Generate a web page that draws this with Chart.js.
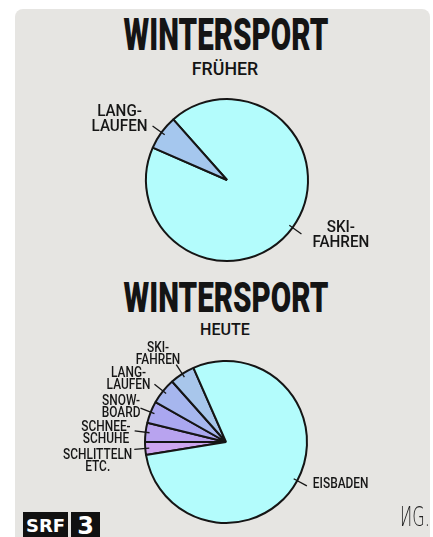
<!DOCTYPE html>
<html>
<head>
<meta charset="utf-8">
<script src="https://cdn.jsdelivr.net/npm/chart.js@4"></script>
<style>
  html, body { margin: 0; padding: 0; background: #fff; }
  body { width: 433px; height: 537px; overflow: hidden; position: relative; font-family: Roboto, "DejaVu Sans", sans-serif; }
  #panel { position: absolute; left: 15px; top: 9px; width: 415px; height: 540px; background: #e6e5e2; border-radius: 8px; }
  .fit { position: absolute; white-space: nowrap; line-height: 1; color: #141414; transform-origin: center; }
  .big { font-weight: 900; }
  .sub { font-weight: 500; }
  canvas { position: absolute; left: 0; }
  .logo { position: absolute; top: 512px; height: 30px; background: #111; color: #fff; font-weight: 700; font-family: "DejaVu Sans", sans-serif; text-align: center; line-height: 28px; }
  #sig { position: absolute; left: 400px; top: 502px; font: 300 26px "DejaVu Sans", sans-serif; color: #222; transform: scaleX(0.62); transform-origin: left; }
</style>
</head>
<body>
<div id="panel"></div>

<div class="fit big" data-w="205" style="left:225.5px; top:13px; font-size:44px;">WINTERSPORT</div>
<div class="fit sub" data-w="66" style="left:225px; top:60px; font-size:18px;">FRÜHER</div>
<canvas id="frueher" width="433" height="180" style="top:90px"></canvas>

<div class="fit big" data-w="205" style="left:225.5px; top:277px; font-size:42px;">WINTERSPORT</div>
<div class="fit sub" data-w="50" style="left:225px; top:321px; font-size:17px;">HEUTE</div>
<canvas id="heute" width="433" height="200" style="top:340px"></canvas>

<div class="logo" style="left:23px; width:45px; font-size:18px;">SRF</div>
<div class="logo" style="left:71px; width:29px; font-size:24px;">3</div>
<div id="sig">ИG.</div>

<script>
// früher
const frueherLabels = [['SKI-', 'FAHREN'], ['LANG-', 'LAUFEN']];
const frueherValues = [93.1, 6.9];
const frueherColors = ['#b3fcfc', '#a5c7ee'];

// heute
const heuteLabels = [['SCHLITTELN', 'ETC.'], ['SCHNEE-', 'SCHUHE'], ['SNOW-', 'BOARD'], ['LANG-', 'LAUFEN'], ['SKI-', 'FAHREN'], ['EISBADEN']];
const heuteValues = [2.6, 3.8, 4.4, 5.2, 5.0, 79.0];
const heuteColors = ['#cda5ef', '#b8a3ef', '#aaa7f0', '#a6b6ee', '#a8c6eb', '#b3fcfc'];

// squeeze the titles to the drawn width
document.querySelectorAll('.fit').forEach(el => {
    const s = Number(el.dataset.w) / el.offsetWidth;
    el.style.transform = `translateX(-50%) scaleX(${s})`;
});

// hand-lettered labels with a short leader line into the slice
// anchor = which text row (fractional) sits level with the end of the leader
const sliceLabels = {
    id: 'sliceLabels',
    afterDatasetsDraw(chart, args, opts) {
        const { ctx } = chart;
        const meta = chart.getDatasetMeta(0);
        ctx.save();
        ctx.font = `500 ${opts.size}px Roboto, "DejaVu Sans", sans-serif`;
        ctx.fillStyle = '#161616';
        ctx.strokeStyle = '#161616';
        ctx.lineWidth = 1.3;
        meta.data.forEach((arc, i) => {
            const { x, y, startAngle, endAngle, outerRadius } =
                arc.getProps(['x', 'y', 'startAngle', 'endAngle', 'outerRadius'], true);
            const mid = (startAngle + endAngle) / 2;
            const cos = Math.cos(mid), sin = Math.sin(mid);
            const x1 = x + cos * (outerRadius - 4), y1 = y + sin * (outerRadius - 4);
            const x2 = x + cos * (outerRadius + 11), y2 = y + sin * (outerRadius + 11);
            ctx.beginPath();
            ctx.moveTo(x1, y1);
            ctx.lineTo(x2, y2);
            ctx.stroke();

            const rows = [].concat(chart.data.labels[i]);
            const w = Math.max(...rows.map(r => ctx.measureText(r).width * opts.squeeze));
            const gap = opts.gap[i];
            const cx = cos < 0 ? x2 - gap - w / 2 : x2 + gap + w / 2;
            const firstRow = y2 - opts.anchor[i] * opts.step;
            rows.forEach((r, k) => {
                ctx.save();
                ctx.translate(cx, firstRow + k * opts.step + 1);
                ctx.scale(opts.squeeze, 1);
                ctx.textAlign = 'center';
                ctx.textBaseline = 'middle';
                ctx.fillText(r, 0, 0);
                ctx.restore();
            });
        });
        ctx.restore();
    }
};

function pie(id, labels, values, colors, rotation, padding, labelOpts) {
    return new Chart(document.getElementById(id), {
        type: 'pie',
        data: {
            labels,
            datasets: [{
                data: values,
                backgroundColor: colors,
                borderColor: '#151515',
                borderWidth: 2,
                borderAlign: 'center'
            }]
        },
        options: {
            responsive: false,
            animation: false,
            devicePixelRatio: 1,
            rotation,
            layout: { padding },
            plugins: {
                legend: { display: false },
                tooltip: { enabled: false },
                sliceLabels: labelOpts
            }
        },
        plugins: [sliceLabels]
    });
}

pie('frueher', frueherLabels, frueherValues, frueherColors, 318.4,
    { left: 145, right: 124, top: 8, bottom: 8 },
    { size: 16, step: 15, squeeze: 0.95, gap: [11, 5], anchor: [0.5, 1.0] });

pie('heute', heuteLabels, heuteValues, heuteColors, 260.7,
    { left: 144, right: 125, top: 20, bottom: 16 },
    { size: 14, step: 12, squeeze: 0.85, gap: [2, 4, 0, 4, -4, 6], anchor: [-0.45, 0.33, 0.67, 0.95, 1.4, 0.2] });
</script>
</body>
</html>
